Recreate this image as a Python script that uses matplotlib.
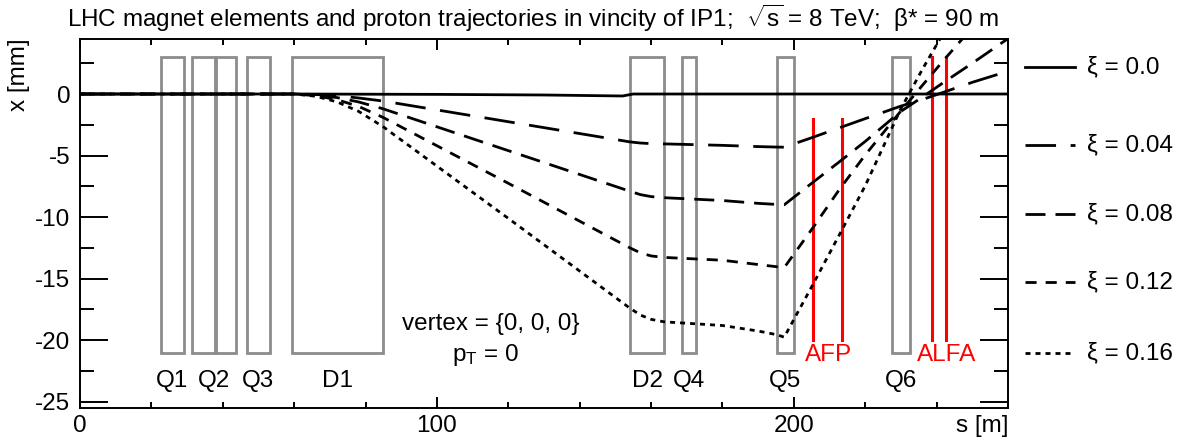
"""Proton trajectories through the LHC magnet lattice downstream of IP1 (beta* = 90 m)."""
import matplotlib
matplotlib.use("Agg")
import matplotlib.pyplot as plt
from matplotlib.lines import Line2D
from matplotlib.patches import Rectangle

plt.rcParams["font.family"] = ["Liberation Sans", "DejaVu Sans"]
plt.rcParams["mathtext.fontset"] = "custom"
plt.rcParams["mathtext.rm"] = "Liberation Sans"
plt.rcParams["mathtext.it"] = "Liberation Sans:italic"
plt.rcParams["axes.unicode_minus"] = False
plt.rcParams["lines.scale_dashes"] = False

# --- magnet lattice [m] ---------------------------------------------------
MAGNET_NAMES = ["Q1", "Q2a", "Q2b", "Q3", "D1", "D2", "Q4", "Q5", "Q6"]
MAGNET_START = [22.6, 31.4, 38.1, 46.8, 59.5, 154.1, 168.8, 195.2, 227.5]
MAGNET_END = [29.0, 37.9, 43.8, 53.3, 84.9, 163.6, 172.5, 200.1, 232.6]
MAGNET_XMIN, MAGNET_XMAX = -21.0, 3.0

LABELS = ["Q1", "Q2", "Q3", "D1", "D2", "Q4", "Q5", "Q6"]
LABEL_S = [25.8, 37.6, 50.0, 72.2, 158.9, 170.6, 197.6, 230.0]

# --- forward detectors: station positions [m] and x range [mm] ------------
AFP_S = [205.3, 213.4]
AFP_X = (-20.0, -2.0)
AFP_LABEL_S = 209.6
ALFA_S = [238.7, 242.6]
ALFA_X = (-20.0, 3.0)
ALFA_LABEL_S = 242.8

# --- trajectories x(s) [mm] -------------------------------------------------
S_XI0 = [0, 60, 100, 130, 152, 155, 260]
X_XI0 = [0, 0, -0.03, -0.08, -0.16, 0, 0]

S_TRACK = [0, 60, 66, 72, 78, 84.9, 120, 154.1, 157, 160, 163.6, 180, 190,
           195.3, 197.3, 205, 213, 220, 229.8, 236, 242, 250, 260]
X_XI004 = [0, 0, -0.04, -0.14, -0.32, -0.57, -2.25, -3.89, -3.98, -4.03, -4.05,
           -4.17, -4.27, -4.31, -4.32, -3.55, -2.72, -2.0, -1.0, -0.45, 0.15, 0.95, 1.85]
X_XI008 = [0, 0, -0.08, -0.29, -0.64, -1.2, -4.6, -7.9, -8.17, -8.33, -8.42,
           -8.65, -8.88, -8.97, -9.0, -7.25, -5.45, -3.85, -1.45, -0.25, 0.95, 2.5, 4.5]
X_XI012 = [0, 0, -0.13, -0.46, -1.0, -1.9, -7.25, -12.5, -12.9, -13.15, -13.27,
           -13.5, -13.85, -14.03, -14.1, -11.0, -7.65, -4.95, -1.45, 0.7, 2.75, 5.4, 8.8]
X_XI016 = [0, 0, -0.18, -0.64, -1.4, -2.65, -10.1, -17.4, -17.95, -18.3, -18.5,
           -18.8, -19.25, -19.55, -19.75, -15.65, -11.3, -7.45, -1.3, 2.0, 5.0, 9.0, 14.0]

XI_LABELS = ["ξ = 0.0", "ξ = 0.04", "ξ = 0.08", "ξ = 0.12", "ξ = 0.16"]
XI_DASHES = [None, (22, 10.5), (14.4, 7.2), (8, 6.5), (3.6, 3.6)]
LEGEND_Y_PX = [67, 145, 214, 282, 353]   # entry rows, pixels from the top

FS = 17.5
LW = 2.0
GREY = "#8c8c8c"
W_PX, H_PX = 1186, 444

fig = plt.figure(figsize=(W_PX / 100, H_PX / 100), dpi=100)
ax = fig.add_axes([80 / W_PX, 1 - 408 / H_PX, 928 / W_PX, 369.4 / H_PX])

# magnets as grey open boxes
for s0, s1 in zip(MAGNET_START, MAGNET_END):
    ax.add_patch(Rectangle((s0, MAGNET_XMIN), s1 - s0, MAGNET_XMAX - MAGNET_XMIN,
                           fill=False, edgecolor=GREY, linewidth=2.0, zorder=2))
for name, s in zip(LABELS, LABEL_S):
    ax.text(s, -23.3, name, ha="center", va="center", fontsize=FS)

# detector stations
for s in AFP_S:
    ax.plot([s, s], AFP_X, color="red", lw=2.2, zorder=3)
for s in ALFA_S:
    ax.plot([s, s], ALFA_X, color="red", lw=2.2, zorder=3)
ax.text(AFP_LABEL_S, -21.2, "AFP", color="red", ha="center", va="center", fontsize=FS)
ax.text(ALFA_LABEL_S, -21.2, "ALFA", color="red", ha="center", va="center", fontsize=FS)

# trajectories
series = [(S_XI0, X_XI0), (S_TRACK, X_XI004), (S_TRACK, X_XI008),
          (S_TRACK, X_XI012), (S_TRACK, X_XI016)]
for (s, x), dash in zip(series, XI_DASHES):
    kw = {} if dash is None else {"dashes": dash}
    ax.plot(s, x, color="k", lw=LW, zorder=4, **kw)

ax.text(115, -18.7, "vertex = {0, 0, 0}", ha="center", va="center", fontsize=FS)
ax.text(113.6, -21.2, r"p$_\mathrm{T}$ = 0", ha="center", va="center", fontsize=FS)

ax.set_xlim(0, 260)
ax.set_ylim(-25.5, 4.5)
ax.set_xticks([0, 100, 200])
ax.set_xticks(range(0, 261, 20), minor=True)
ax.set_yticks([-25, -20, -15, -10, -5, 0])
ax.set_yticks([-22.5, -17.5, -12.5, -7.5, -2.5, 2.5], minor=True)
ax.tick_params(which="both", direction="in", top=True, right=True, width=1.4,
               labelsize=FS)
ax.tick_params(axis="x", which="major", length=8, pad=5)
ax.tick_params(axis="x", which="minor", length=4.5)
ax.tick_params(axis="y", which="major", length=20, pad=7)
ax.tick_params(axis="y", which="minor", length=10)
for sp in ax.spines.values():
    sp.set_linewidth(1.4)

ax.annotate("s [m]", xy=(1, 0), xycoords="axes fraction", xytext=(0, -5),
            textcoords="offset points", ha="right", va="top", fontsize=FS)
ax.set_ylabel("x [mm]", fontsize=FS, loc="top")
ax.yaxis.set_label_coords(-0.054, 1.0)

fig.text(533 / W_PX, 1 - 18 / H_PX,
         r"LHC magnet elements and proton trajectories in vincity of IP1;  $\sqrt{\mathrm{s}}$ = 8 TeV;  β* = 90 m",
         ha="center", va="center", fontsize=FS)

# legend to the right of the frame
for label, dash, ypx in zip(XI_LABELS, XI_DASHES, LEGEND_Y_PX):
    yf = 1 - ypx / H_PX
    kw = {} if dash is None else {"dashes": dash}
    fig.add_artist(Line2D([1025 / W_PX, 1075 / W_PX], [yf, yf], color="k", lw=LW,
                          transform=fig.transFigure, **kw))
    fig.text(1087 / W_PX, yf, label, ha="left", va="center", fontsize=FS)

fig.savefig("out.png", dpi=100)
